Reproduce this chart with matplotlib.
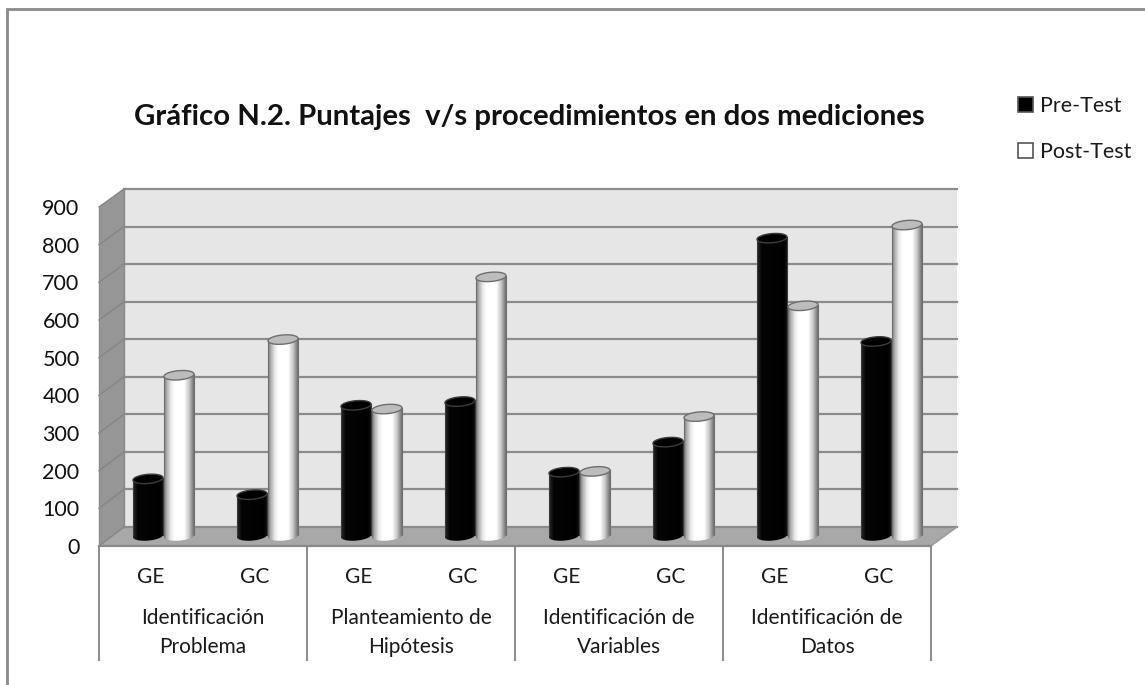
import numpy as np
import matplotlib
matplotlib.use("Agg")
import matplotlib.pyplot as plt
from matplotlib.colors import LinearSegmentedColormap
from matplotlib.patches import Polygon, Patch
from matplotlib.transforms import blended_transform_factory

plt.rcParams['font.family'] = ['Lato', 'DejaVu Sans']

title = "Gráfico N.2. Puntajes  v/s procedimientos en dos mediciones"
groups = ["Identificación\nProblema", "Planteamiento de\nHipótesis",
          "Identificación de\nVariables", "Identificación de\nDatos"]
subcats = ["GE", "GC", "GE", "GC", "GE", "GC", "GE", "GC"]
pre_test = [152, 110, 348, 358, 170, 250, 793, 518]
post_test = [428, 523, 338, 690, 172, 318, 613, 828]
y_ticks = [0, 100, 200, 300, 400, 500, 600, 700, 800, 900]

W, H = 1145, 685
fig = plt.figure(figsize=(W / 100, H / 100), dpi=100, facecolor='white')


def px_axes(l, t, r, b, z):
    a = fig.add_axes([l / W, 1 - b / H, (r - l) / W, (b - t) / H], zorder=z)
    a.patch.set_visible(False)
    return a


GRID = '#8c8c8c'
# --- background layer in pixels: frame, walls, floor, category table
bg = px_axes(0, 0, W, H, 0)
bg.set_xlim(0, W)
bg.set_ylim(H, 0)
bg.axis('off')
bg.plot([6.5, 6.5, W], [H, 8.5, 8.5], color='#8a8a8a', lw=2.0, solid_joinstyle='miter')

bL, bR, bB, bT = 124, 957, 527, 189
fL, fR, fB, fT = 99, 931, 546, 207
bg.add_patch(Polygon([(bL, bT), (bR, bT), (bR, bB), (bL, bB)], fc='#e6e6e6', ec='none'))
bg.add_patch(Polygon([(fL, fT), (bL, bT), (bL, bB), (fL, fB)], fc='#969696', ec='none'))
bg.add_patch(Polygon([(fL, fB), (bL, bB), (bR, bB), (fR, fB)], fc='#a8a8a8', ec='none'))
for v in y_ticks:
    yb = bB + (bT - bB) * v / 900
    yf = fB + (fT - fB) * v / 900
    bg.plot([bL, bR], [yb, yb], color=GRID, lw=1.6)
    bg.plot([fL, bL], [yf, yb], color='#858585', lw=1.0)
bg.plot([bL, bL], [bT, bB], color='#8a8a8a', lw=1.0)
bg.plot([fL, fL], [fT, fB], color='#8a8a8a', lw=1.0)
bg.plot([fL, fR], [fB, fB], color='#8a8a8a', lw=1.6)
bg.plot([fR, bR], [fB, bB], color='#9a9a9a', lw=1.0)
for i in range(5):
    x = fL + (fR - fL) * i / 4
    bg.plot([x, x], [fB, 660], color='#8a8a8a', lw=1.4)

# --- front plane axes: carries the tick labels
tick_ax = px_axes(fL, fT, fR, fB, 1)
tick_ax.set_xlim(-0.5, 7.5)
tick_ax.set_ylim(0, 900)
for s in tick_ax.spines.values():
    s.set_visible(False)
tick_ax.set_yticks(y_ticks)
tick_ax.set_yticklabels([str(v) for v in y_ticks], fontsize=15.5, color='#111111',
                        va='center_baseline')
tick_ax.set_xticks(range(8))
tick_ax.set_xticklabels(subcats, fontsize=15, color='#1a1a1a')
tick_ax.tick_params(axis='y', length=0, pad=14)
tick_ax.tick_params(axis='x', length=0, pad=15)
tr = blended_transform_factory(tick_ax.transData, bg.transData)
for i, g in enumerate(groups):
    tick_ax.text(2 * i + 0.5, 632.5, g, transform=tr, ha='center', va='center',
                 fontsize=15, color='#1a1a1a', linespacing=1.52, clip_on=False)

# --- bar plane axes: the cylinders
ax = px_axes(111.5, 198, 943.5, 536, 2)
ax.set_xlim(-0.5, 7.5)
ax.set_ylim(0, 900)
ax.axis('off')

unit = 338 / 900            # pixels per value unit
slot = 104                  # pixels per category
bw = 30 / slot
off = 15.5 / slot
eb = 4.6 / unit             # ellipse half height in value units
ek = 1.2 / unit             # tilt of ellipse

cm_white = LinearSegmentedColormap.from_list('w', [
    (0, '#6e6e6e'), (0.06, '#a0a0a0'), (0.22, '#e8e8e8'), (0.35, '#ffffff'),
    (0.68, '#ffffff'), (0.84, '#c8c8c8'), (0.95, '#8c8c8c'), (1, '#707070')])
cm_black = LinearSegmentedColormap.from_list('k', [
    (0, '#2a2a2a'), (0.15, '#050505'), (0.9, '#000000'), (1, '#111111')])
grad = np.linspace(0, 1, 128)[None, :]
t_full = np.linspace(0, 2 * np.pi, 80)
t_low = np.linspace(np.pi, 2 * np.pi, 40)


def cylinder(cx, v, cmap, top_fc, top_ec, z):
    ax.bar(cx, v, width=bw, color=top_fc, zorder=z)
    a = bw / 2
    lowx = cx + a * np.cos(t_low)
    lowy = eb * np.sin(t_low) + ek * np.cos(t_low)
    body = np.column_stack([np.r_[lowx, cx + a, cx - a],
                            np.r_[lowy, v + ek, v - ek]])
    im = ax.imshow(grad, extent=(cx - a, cx + a, -30, v + 30), cmap=cmap,
                   aspect='auto', zorder=z + 0.1, interpolation='bilinear')
    clip = Polygon(body, transform=ax.transData)
    im.set_clip_path(clip)
    im.set_clip_box(fig.bbox)
    ax.plot([cx - a, cx - a], [-ek, v - ek], color=top_ec, lw=0.8, zorder=z + 0.2)
    ax.plot([cx + a, cx + a], [ek, v + ek], color=top_ec, lw=0.8, zorder=z + 0.2)
    top = np.column_stack([cx + a * np.cos(t_full),
                           v + eb * np.sin(t_full) + ek * np.cos(t_full)])
    ax.add_patch(Polygon(top, fc=top_fc, ec=top_ec, lw=1.0, zorder=z + 0.3, clip_on=False))


for i in range(8):
    cylinder(i - off, pre_test[i], cm_black, '#000000', '#3c3c3c', 3)
    cylinder(i + off, post_test[i], cm_white, '#bcbcbc', '#6e6e6e', 4)
ax.set_xlim(-0.5, 7.5)
ax.set_ylim(0, 900)

fig.suptitle(title, x=529.5 / W, y=1 - 116.5 / H, ha='center', va='center',
             fontsize=21.2, fontweight='bold', color='#111111')

handles = [Patch(fc='#000000', ec='#555555', lw=1.2), Patch(fc='#ffffff', ec='#555555', lw=1.2)]
fig.legend(handles, ['Pre-Test', 'Post-Test'], loc='upper left',
           bbox_to_anchor=(1018 / W, 1 - 96 / H), frameon=False, fontsize=15.5,
           handlelength=0.7, handleheight=0.7, handletextpad=0.3, labelspacing=1.2,
           borderpad=0, borderaxespad=0, labelcolor='#1a1a1a')

fig.savefig('out.png', dpi=100)
